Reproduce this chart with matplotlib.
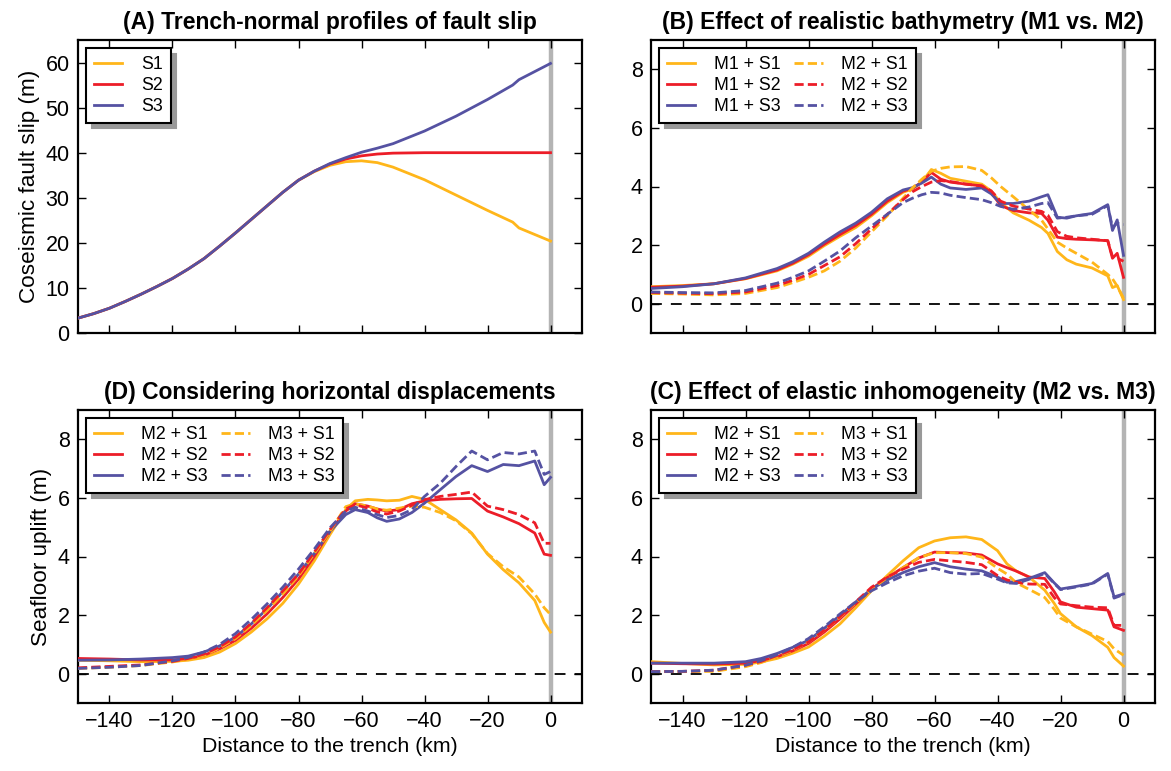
import matplotlib
matplotlib.use("Agg")
import matplotlib.pyplot as plt

plt.rcParams['font.family'] = ['Liberation Sans', 'DejaVu Sans']

# ---------------- data ----------------
# Panel A: fault slip
xA = [-150, -145, -140, -135, -130, -125, -120, -115, -110, -105, -100, -95, -90, -85, -80, -75, -70, -65,
      -60, -55, -50, -40, -30, -20, -12, -10, 0]
slip_S1 = [3.3, 4.3, 5.5, 7.0, 8.6, 10.3, 12.1, 14.2, 16.5, 19.3, 22.2, 25.2, 28.2, 31.2, 33.9, 35.8, 37.2, 38.0,
           38.2, 37.8, 36.8, 34.0, 30.6, 27.2, 24.6, 23.3, 20.4]
slip_S2 = [3.3, 4.3, 5.5, 7.0, 8.6, 10.3, 12.1, 14.2, 16.5, 19.3, 22.2, 25.2, 28.2, 31.2, 33.9, 35.9, 37.5, 38.6,
           39.3, 39.7, 39.9, 40.0, 40.0, 40.0, 40.0, 40.0, 40.0]
slip_S3 = [3.3, 4.3, 5.5, 7.0, 8.6, 10.3, 12.1, 14.2, 16.5, 19.3, 22.2, 25.2, 28.2, 31.2, 33.9, 35.9, 37.6, 38.9,
           40.1, 41.0, 42.0, 44.8, 48.1, 51.8, 55.0, 56.2, 59.8]

# Panel B: M1 vs M2
xB = [-150, -140, -130, -120, -110, -105, -100, -95, -90, -85, -80, -75, -70, -67, -64, -61, -58, -55,
      -50, -45, -42, -39, -35, -30, -26, -24, -21, -18, -15, -10, -5, -3.5, -2, 0]
B_M1_S1 = [0.58, 0.62, 0.68, 0.85, 1.12, 1.35, 1.62, 1.98, 2.3, 2.6, 3.0, 3.45, 3.8, 3.92, 4.15, 4.58, 4.45, 4.28,
           4.18, 4.08, 3.85, 3.45, 3.1, 2.85, 2.6, 2.4, 1.78, 1.5, 1.35, 1.22, 0.95, 0.55, 0.62, 0.14]
B_M1_S2 = [0.56, 0.6, 0.68, 0.86, 1.15, 1.38, 1.67, 2.03, 2.36, 2.67, 3.05, 3.5, 3.84, 3.94, 4.15, 4.48, 4.25, 4.15,
           4.08, 4.02, 3.8, 3.35, 3.18, 3.1, 3.08, 2.85, 2.27, 2.22, 2.2, 2.18, 2.15, 1.55, 1.72, 0.9]
B_M1_S3 = [0.52, 0.58, 0.68, 0.88, 1.2, 1.43, 1.72, 2.1, 2.45, 2.75, 3.12, 3.58, 3.88, 3.96, 4.12, 4.32, 4.08, 3.95,
           3.9, 3.95, 3.75, 3.42, 3.42, 3.5, 3.65, 3.72, 2.95, 2.92, 3.0, 3.08, 3.38, 2.5, 2.86, 1.65]
B_M2_S1 = [0.35, 0.33, 0.3, 0.35, 0.55, 0.72, 0.9, 1.12, 1.45, 1.9, 2.45, 3.0, 3.6, 3.95, 4.25, 4.52, 4.62, 4.67,
           4.68, 4.55, 4.3, 4.0, 3.65, 3.2, 2.85, 2.55, 2.1, 1.9, 1.72, 1.42, 1.0, 0.85, 0.6, 0.19]
B_M2_S2 = [0.38, 0.36, 0.34, 0.4, 0.62, 0.8, 1.0, 1.3, 1.6, 2.05, 2.55, 3.05, 3.55, 3.82, 4.0, 4.15, 4.2, 4.17,
           4.08, 4.02, 3.85, 3.5, 3.33, 3.23, 3.15, 3.02, 2.46, 2.3, 2.25, 2.2, 2.15, 1.61, 1.55, 1.45]
B_M2_S3 = [0.4, 0.38, 0.37, 0.45, 0.7, 0.9, 1.12, 1.45, 1.8, 2.25, 2.65, 3.05, 3.45, 3.6, 3.72, 3.8, 3.78, 3.7,
           3.62, 3.55, 3.45, 3.32, 3.22, 3.3, 3.42, 3.45, 2.92, 2.95, 3.0, 3.05, 3.35, 2.6, 2.75, 2.7]

# Panel D: horizontal displacements considered
xD = [-150, -140, -130, -120, -115, -110, -105, -100, -95, -90, -85, -80, -75, -70, -65, -62, -58, -55,
      -52, -48, -44, -40, -35, -30, -25, -20, -15, -10, -5, -2, 0]
D_M2_S1 = [0.46, 0.44, 0.41, 0.42, 0.46, 0.55, 0.74, 1.03, 1.42, 1.87, 2.4, 3.06, 3.85, 4.75, 5.6, 5.9, 5.95, 5.93,
           5.9, 5.92, 6.05, 5.95, 5.6, 5.25, 4.8, 4.08, 3.55, 3.1, 2.5, 1.75, 1.42]
D_M2_S2 = [0.52, 0.5, 0.47, 0.47, 0.52, 0.63, 0.85, 1.14, 1.55, 2.04, 2.6, 3.23, 4.0, 4.86, 5.55, 5.8, 5.72, 5.62,
           5.55, 5.6, 5.8, 5.9, 5.95, 5.97, 5.98, 5.55, 5.35, 5.12, 4.8, 4.08, 4.04]
D_M2_S3 = [0.46, 0.47, 0.5, 0.55, 0.6, 0.74, 0.95, 1.25, 1.7, 2.21, 2.8, 3.4, 4.1, 4.86, 5.43, 5.6, 5.5, 5.32,
           5.2, 5.28, 5.5, 5.82, 6.28, 6.73, 7.1, 6.9, 7.14, 7.1, 7.26, 6.45, 6.7]
D_M3_S1 = [0.18, 0.22, 0.28, 0.4, 0.5, 0.63, 0.88, 1.2, 1.65, 2.16, 2.72, 3.34, 4.1, 4.86, 5.7, 5.8, 5.72, 5.62,
           5.58, 5.65, 5.72, 5.68, 5.5, 5.22, 4.78, 4.1, 3.65, 3.3, 2.72, 2.25, 2.02]
D_M3_S2 = [0.2, 0.25, 0.3, 0.42, 0.52, 0.67, 0.92, 1.25, 1.72, 2.25, 2.82, 3.4, 4.15, 4.92, 5.62, 5.77, 5.65, 5.52,
           5.45, 5.55, 5.75, 5.94, 6.05, 6.12, 6.2, 5.72, 5.6, 5.43, 5.15, 4.45, 4.45]
D_M3_S3 = [0.18, 0.22, 0.28, 0.44, 0.56, 0.74, 1.0, 1.37, 1.85, 2.38, 2.95, 3.57, 4.25, 4.98, 5.55, 5.68, 5.55, 5.43,
           5.33, 5.4, 5.6, 6.05, 6.5, 7.07, 7.6, 7.3, 7.55, 7.5, 7.6, 6.8, 6.9]

# Panel C: M2 vs M3
xC = [-150, -140, -130, -120, -115, -110, -105, -100, -95, -90, -85, -80, -75, -70, -65, -60, -55, -50,
      -45, -40, -37, -34, -30, -25, -22, -20, -15, -10, -5, -3, 0]
C_M2_S1 = [0.41, 0.35, 0.3, 0.32, 0.4, 0.52, 0.7, 0.91, 1.28, 1.7, 2.25, 2.83, 3.35, 3.85, 4.3, 4.53, 4.64, 4.67,
           4.58, 4.2, 3.75, 3.5, 3.3, 2.85, 2.4, 2.05, 1.6, 1.3, 0.9, 0.55, 0.26]
C_M2_S2 = [0.36, 0.34, 0.33, 0.36, 0.45, 0.58, 0.78, 1.03, 1.42, 1.87, 2.38, 2.89, 3.28, 3.62, 3.95, 4.15, 4.13, 4.12,
           4.05, 3.75, 3.62, 3.5, 3.3, 3.25, 2.8, 2.45, 2.27, 2.22, 2.17, 1.6, 1.48]
C_M2_S3 = [0.36, 0.36, 0.36, 0.41, 0.52, 0.69, 0.9, 1.14, 1.55, 1.99, 2.45, 2.89, 3.2, 3.45, 3.65, 3.79, 3.65, 3.57,
           3.51, 3.3, 3.12, 3.15, 3.25, 3.45, 3.1, 2.89, 2.98, 3.08, 3.42, 2.62, 2.72]
C_M3_S1 = [0.07, 0.07, 0.08, 0.24, 0.38, 0.58, 0.8, 1.08, 1.48, 1.93, 2.42, 2.89, 3.28, 3.62, 3.96, 4.13, 4.13, 4.1,
           3.98, 3.6, 3.4, 3.1, 2.88, 2.6, 2.2, 1.9, 1.6, 1.35, 1.1, 0.85, 0.63]
C_M3_S2 = [0.07, 0.08, 0.12, 0.29, 0.42, 0.62, 0.82, 1.08, 1.48, 1.95, 2.45, 2.95, 3.3, 3.57, 3.8, 3.9, 3.85, 3.8,
           3.72, 3.35, 3.2, 3.12, 3.06, 3.05, 2.6, 2.38, 2.32, 2.27, 2.25, 1.65, 1.65]
C_M3_S3 = [0.07, 0.08, 0.12, 0.29, 0.45, 0.65, 0.9, 1.2, 1.6, 2.04, 2.45, 2.83, 3.1, 3.34, 3.5, 3.6, 3.45, 3.4,
           3.42, 3.23, 3.1, 3.08, 3.22, 3.42, 3.08, 2.87, 2.96, 3.06, 3.4, 2.58, 2.7]

titles = ["(A) Trench-normal profiles of fault slip",
          "(B) Effect of realistic bathymetry (M1 vs. M2)",
          "(D) Considering horizontal displacements",
          "(C) Effect of elastic inhomogeneity (M2 vs. M3)"]
xticks = [-140, -120, -100, -80, -60, -40, -20, 0]

# ---------------- style ----------------
YEL, RED, BLU = '#FFB61A', '#EC1D28', '#5552A2'
LW = 2.0
DASH = (3.3, 1.5)

fig = plt.figure(figsize=(11.71, 7.71), dpi=100)
W, H = 1171.0, 771.0
def ax_at(l, r, t, b):
    return fig.add_axes([l / W, 1 - b / H, (r - l) / W, (b - t) / H])

axA = ax_at(78, 582, 40, 333)
axB = ax_at(651, 1155, 40, 333)
axD = ax_at(78, 582, 410, 703)
axC = ax_at(651, 1155, 410, 703)

def style(ax, ylim, yticks, title, xlabels):
    ax.set_xlim(-150, 10)
    ax.set_ylim(*ylim)
    ax.set_xticks(xticks)
    ax.set_yticks(yticks)
    ax.tick_params(direction='in', top=True, right=True, length=6, width=1.0, labelsize=15.5, pad=6)
    if not xlabels:
        ax.set_xticklabels([])
    else:
        ax.set_xlabel("Distance to the trench (km)", fontsize=15.3, labelpad=3)
    for s in ax.spines.values():
        s.set_linewidth(1.6)
    ax.set_title(title, fontsize=16.5, fontweight='bold', pad=8)
    ax.axvline(0, color='#b4b4b4', lw=3.2, zorder=1)

def legend(ax, ncol):
    ax.legend(loc='upper left', ncol=ncol, fontsize=12.8, frameon=True, fancybox=False,
              edgecolor='black', framealpha=1, borderaxespad=0.45, borderpad=0.45,
              labelspacing=0.22, handlelength=1.6, handletextpad=1.05, columnspacing=0.75,
              shadow={'ox': 4, 'oy': -4, 'color': '0.6', 'alpha': 1.0}).get_frame().set_linewidth(1.5)

# Panel A
axA.plot(xA, slip_S1, color=YEL, lw=LW, label='S1', zorder=3)
axA.plot(xA, slip_S2, color=RED, lw=LW, label='S2', zorder=3)
axA.plot(xA, slip_S3, color=BLU, lw=LW, label='S3', zorder=3)
style(axA, (0, 65), [0, 10, 20, 30, 40, 50, 60], titles[0], False)
axA.set_ylabel("Coseismic fault slip (m)", fontsize=16.2)
legend(axA, 1)

def panel(ax, x, solids, dashes, labs_s, labs_d, title, xlabels):
    ax.axhline(0, color='black', lw=1.3, dashes=(6, 5), zorder=2)
    for ys, c, lab in zip(solids, (YEL, RED, BLU), labs_s):
        ax.plot(x, ys, color=c, lw=LW, label=lab, zorder=3)
    for ys, c, lab in zip(dashes, (YEL, RED, BLU), labs_d):
        ax.plot(x, ys, color=c, lw=LW, dashes=DASH, label=lab, zorder=4)
    style(ax, (-1, 9), [0, 2, 4, 6, 8], title, xlabels)
    legend(ax, 2)

panel(axB, xB, (B_M1_S1, B_M1_S2, B_M1_S3), (B_M2_S1, B_M2_S2, B_M2_S3),
      ('M1 + S1', 'M1 + S2', 'M1 + S3'), ('M2 + S1', 'M2 + S2', 'M2 + S3'), titles[1], False)
panel(axD, xD, (D_M2_S1, D_M2_S2, D_M2_S3), (D_M3_S1, D_M3_S2, D_M3_S3),
      ('M2 + S1', 'M2 + S2', 'M2 + S3'), ('M3 + S1', 'M3 + S2', 'M3 + S3'), titles[2], True)
axD.set_ylabel("Seafloor uplift (m)", fontsize=16.2)
panel(axC, xC, (C_M2_S1, C_M2_S2, C_M2_S3), (C_M3_S1, C_M3_S2, C_M3_S3),
      ('M2 + S1', 'M2 + S2', 'M2 + S3'), ('M3 + S1', 'M3 + S2', 'M3 + S3'), titles[3], True)

fig.savefig("out.png", dpi=100)
